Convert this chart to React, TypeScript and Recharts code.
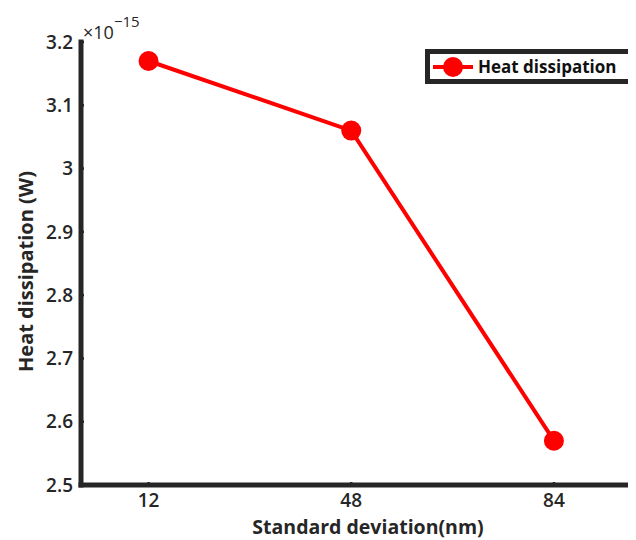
import { Legend, Line, LineChart, XAxis, YAxis } from "recharts";

// standard deviation (nm) vs heat dissipation (x 1e-15 W)
const sdValues = [12, 48, 84];
const heatValues = [3.17, 3.06, 2.57];
const xTicks = [12, 48, 84];
const yTicks = [2.5, 2.6, 2.7, 2.8, 2.9, 3, 3.1, 3.2];
const seriesName = "Heat dissipation";

const data = sdValues.map((sd, i) => ({ sd, heat: heatValues[i] }));

const ink = "#262626";
const red = "#ff0000";
const font = "'Open Sans', sans-serif";
const axisLine = { stroke: ink, strokeWidth: 5, strokeLinecap: "square" as const };
const tickLine = { stroke: ink, strokeWidth: 2.5 };
const tickStyle = { fill: ink, fontSize: 19, fontFamily: font, fontWeight: 600 };

const YTitle = ({ viewBox }: any) => {
  const cy = viewBox.y + viewBox.height / 2 + 8;
  return (
    <g fontFamily={font} fill={ink}>
      <text
        x={17}
        y={cy}
        transform={`rotate(-90 17 ${cy})`}
        textAnchor="middle"
        dominantBaseline="central"
        fontSize={20}
        fontWeight={700}
      >
        Heat dissipation (W)
      </text>
      <text x={75} y={31} fontSize={18}>
        ×10
        <tspan dy={-12} fontSize={15}>
          −15
        </tspan>
      </text>
    </g>
  );
};

const XTitle = () => (
  <text
    x={360}
    y={526}
    textAnchor="middle"
    fontFamily={font}
    fontSize={19.5}
    fontWeight={700}
    fill={ink}
  >
    Standard deviation(nm)
  </text>
);

const LegendBox = () => (
  <div
    style={{
      boxSizing: "border-box",
      width: 209,
      height: 35,
      border: `5px solid ${ink}`,
      background: "#fff",
      display: "flex",
      alignItems: "center",
      fontFamily: font,
    }}
  >
    <svg width={44} height={24} style={{ marginLeft: 1 }}>
      <line x1={2} y1={12} x2={42} y2={12} stroke={red} strokeWidth={4} />
      <circle cx={22} cy={12} r={10} fill={red} />
    </svg>
    <span style={{ marginLeft: 3, fontSize: 17, fontWeight: 700, color: "#111" }}>
      {seriesName}
    </span>
  </div>
);

export default function App() {
  return (
    <div style={{ width: 628, height: 532, overflow: "hidden" }}>
      <LineChart width={660} height={532} data={data} margin={{ top: 34, right: 24, bottom: 0, left: 0 }}>
        <XAxis
          dataKey="sd"
          type="number"
          domain={[0, 100]}
          ticks={xTicks}
          height={55}
          stroke={ink}
          strokeWidth={5}
          axisLine={axisLine}
          tickLine={tickLine}
          tickSize={-3}
          tickMargin={12}
          tick={tickStyle}
          label={<XTitle />}
        />
        <XAxis
          xAxisId="top"
          orientation="top"
          type="number"
          domain={[0, 100]}
          ticks={xTicks}
          height={0}
          stroke={ink}
          strokeWidth={5}
          axisLine={axisLine}
          tickLine={tickLine}
          tickSize={-3}
          tickFormatter={() => ""}
        />
        <YAxis
          type="number"
          domain={[2.5, 3.2]}
          ticks={yTicks}
          width={73}
          stroke={ink}
          strokeWidth={5}
          axisLine={axisLine}
          tickLine={tickLine}
          tickSize={-3}
          tickMargin={11}
          tick={tickStyle}
          tickFormatter={(v) => String(v)}
          label={<YTitle />}
        />
        <Legend
          layout="vertical"
          align="center"
          verticalAlign="middle"
          wrapperStyle={{ top: 41, left: 417, width: 209, height: 35 }}
          content={<LegendBox />}
        />
        <Line
          dataKey="heat"
          name={seriesName}
          stroke={red}
          strokeWidth={4}
          dot={{ r: 10, fill: red, stroke: red, strokeWidth: 0 }}
          activeDot={false}
          isAnimationActive={false}
        />
      </LineChart>
    </div>
  );
}
